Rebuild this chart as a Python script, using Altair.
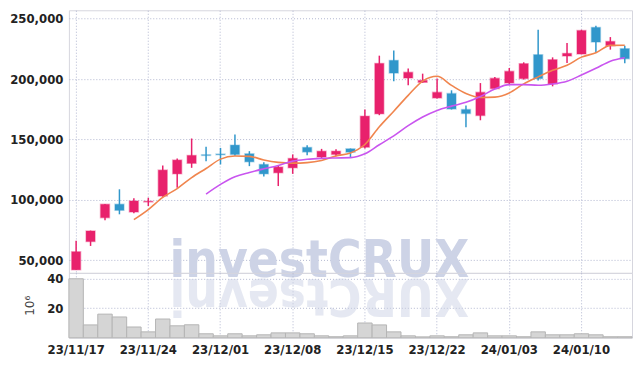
import altair as alt
import pandas as pd

# ---------------- data ----------------
dates = ["23/11/17", "23/11/20", "23/11/21", "23/11/22", "23/11/23", "23/11/24",
         "23/11/27", "23/11/28", "23/11/29", "23/11/30", "23/12/01",
         "23/12/04", "23/12/05", "23/12/06", "23/12/07", "23/12/08",
         "23/12/11", "23/12/12", "23/12/13", "23/12/14", "23/12/15",
         "23/12/18", "23/12/19", "23/12/20", "23/12/21", "23/12/22",
         "23/12/26", "23/12/27", "23/12/28", "24/01/02", "24/01/03",
         "24/01/04", "24/01/05", "24/01/08", "24/01/09", "24/01/10",
         "24/01/11", "24/01/12", "24/01/15"]

opens = [42000, 65400, 85200, 96300, 89900, 98200, 103100, 121500, 130200, 137300,
         137900, 145300, 138100, 129300, 122400, 126500, 143400, 135400, 137600, 142200,
         143600, 171200, 215500, 200900, 197300, 184400, 188000, 174800, 169800, 192100,
         196800, 200400, 220200, 196000, 219100, 220700, 242800, 227700, 225200]
highs = [66000, 74500, 96600, 108700, 101200, 101700, 128500, 134300, 150800, 143900,
         143000, 154100, 140300, 131200, 128800, 137600, 145300, 142200, 141800, 142500,
         174800, 219400, 223600, 208700, 204500, 200400, 190700, 178100, 196700, 201700,
         209200, 213900, 240900, 218000, 229800, 240800, 244200, 234800, 227700]
lows = [42000, 61800, 83000, 88000, 88800, 94900, 102500, 110000, 126500, 132000,
        129300, 136500, 127900, 119400, 111400, 121500, 137000, 134300, 136100, 135400,
        142500, 170100, 198200, 194900, 197000, 184000, 174800, 160200, 165900, 191800,
        194900, 199600, 198800, 194000, 213300, 220500, 221600, 224400, 213100]
closes = [57000, 74200, 96300, 91300, 99000, 98700, 124600, 132900, 136800, 136800,
          137400, 137600, 131500, 121500, 127100, 134300, 139700, 140300, 140300, 139500,
          169300, 213000, 205000, 205600, 198900, 189000, 175300, 171500, 189000, 200600,
          206400, 212800, 200400, 216100, 221300, 240300, 230700, 231200, 216900]
volumes = [40.0, 8.7, 16.0, 14.1, 7.3, 4.0, 12.7, 8.1, 8.8, 2.7,
           1.3, 2.7, 1.3, 2.0, 3.3, 3.3, 2.7, 1.3, 0.7, 1.3,
           10.0, 8.7, 4.0, 1.3, 0.6, 1.3, 0.7, 2.0, 3.3, 1.3,
           1.3, 0.7, 4.0, 2.0, 2.0, 2.7, 2.0, 0.7, 0.7]   # millions of shares

label_dates = dates[::5]
price_ticks = [50000, 75000, 100000, 125000, 150000, 175000, 200000, 225000, 250000]
volume_ticks = [20, 40]
watermark = ["investCRUX"]

# ---------------- styling ----------------
UP = "#e8216c"
DOWN = "#3197cb"
MA5C = "#f0854e"
MA10C = "#c955ef"
GRID = "#aab0cc"
FONT = "'DejaVu Sans Condensed', 'Roboto Condensed', 'Liberation Sans Narrow', Roboto, sans-serif"
WM = "#cdd3e6"

df = pd.DataFrame(dict(date=dates, open=opens, high=highs, low=lows,
                       close=closes, volume=volumes))
wm = pd.DataFrame({"t": watermark, "r": ["".join(reversed(watermark[0]))]})

xscale = alt.Scale(type="band", paddingInner=0, paddingOuter=0)
grid_kw = dict(grid=True, gridDash=[1, 2], gridColor=GRID, gridOpacity=0.9,
               ticks=False, domain=False)

x_price = alt.X("date:O", sort=None, scale=xscale,
                axis=alt.Axis(values=label_dates, labels=False, title=None, **grid_kw))

base = alt.Chart(df)
is_up = "datum.close >= datum.open"

wicks = base.mark_rule(strokeWidth=1.5).encode(
    x=x_price,
    y=alt.Y("low:Q", scale=alt.Scale(domain=[39500, 257000], nice=False, zero=False),
            axis=alt.Axis(values=price_ticks, format=",d", title=None,
                          labelFont=FONT, labelFontSize=13, labelFontWeight="bold",
                          labelColor="#222", labelPadding=6, **grid_kw)),
    y2="high:Q",
    color=alt.condition(is_up, alt.value(UP), alt.value(DOWN)),
)

bodies = base.mark_bar(size=9, strokeWidth=1.5, strokeOpacity=0.35).encode(
    x=x_price,
    y="open:Q",
    y2="close:Q",
    fill=alt.condition(is_up, alt.value(UP), alt.value(DOWN)),
    stroke=alt.condition(is_up, alt.value(UP), alt.value(DOWN)),
)

ma5 = base.transform_window(
    ma="mean(close)", frame=[-4, 0]
).transform_window(
    rn="row_number()"
).transform_filter("datum.rn >= 5").mark_line(
    interpolate="monotone", strokeWidth=1.6, color=MA5C
).encode(x=x_price, y="ma:Q")

ma10 = base.transform_window(
    ma="mean(close)", frame=[-9, 0]
).transform_window(
    rn="row_number()"
).transform_filter("datum.rn >= 10").mark_line(
    interpolate="monotone", strokeWidth=1.6, color=MA10C
).encode(x=x_price, y="ma:Q")

wm_text = alt.Chart(wm).mark_text(
    font=FONT, fontSize=51, fontWeight="bold", color=WM, align="center",
    baseline="alphabetic"
).encode(x=alt.value(251), y=alt.value(267), text="t:N")

price = alt.layer(wm_text, wicks, bodies, ma5, ma10).properties(width=564, height=263)

# ---------------- volume panel ----------------
wm_refl = alt.Chart(wm).mark_text(
    font=FONT, fontSize=51, fontWeight="bold", color=WM, opacity=0.5,
    align="center", baseline="alphabetic", angle=180
).encode(x=alt.value(251), y=alt.value(6), text="r:N")

vol_bars = alt.Chart(df).mark_bar(fill="#d5d5d5", stroke="#b5b5b5", strokeWidth=1).encode(
    x=alt.X("date:O", sort=None, scale=xscale,
            axis=alt.Axis(values=label_dates, labelAngle=0, title=None,
                          labelFont=FONT, labelFontSize=13, labelFontWeight="bold",
                          labelColor="#222", labelPadding=6, labelOverlap=False,
                          **grid_kw)),
    y=alt.Y("volume:Q", scale=alt.Scale(domain=[0, 44], nice=False),
            axis=alt.Axis(values=volume_ticks, title="10⁶",
                          titleFont="DejaVu Sans", titleFontSize=12,
                          titleFontWeight="normal", titleColor="#444",
                          titlePadding=10,
                          labelFont=FONT, labelFontSize=13, labelFontWeight="bold",
                          labelColor="#222", labelPadding=6, **grid_kw)),
)

volume = alt.layer(vol_bars, wm_refl).properties(width=564, height=65)

chart = alt.vconcat(price, volume, spacing=0, bounds="flush").properties(
    padding={"left": 1, "top": 1, "right": 2, "bottom": 0},
    background="white",
).configure_view(stroke="#d6d6de", strokeWidth=1)

chart.save("out.html", embed_options={"renderer": "svg", "actions": False})
